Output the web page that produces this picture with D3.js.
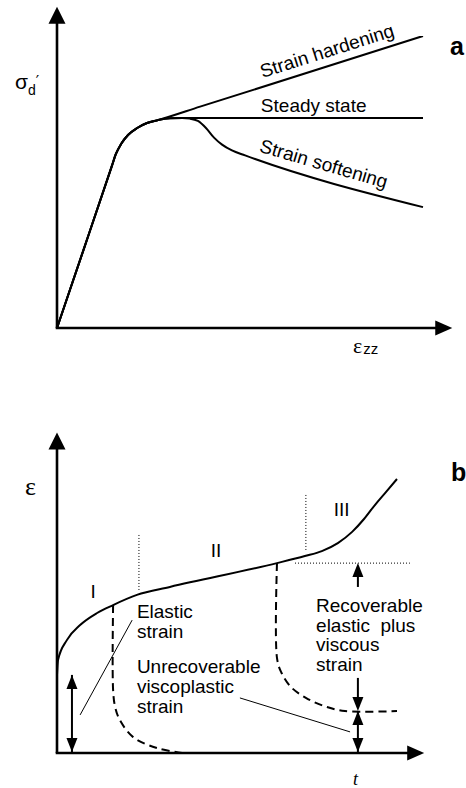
<!DOCTYPE html>
<html>
<head>
<meta charset="utf-8">
<script src="https://cdn.jsdelivr.net/npm/d3@7"></script>
<style>
  body { margin: 0; background: #fff; }
  svg { display: block; }
  text { fill: #000; font-family: "Liberation Sans", Arial, sans-serif; }
</style>
</head>
<body>
<svg id="fig" width="466" height="788"></svg>
<script>
// ---------- Panel a: deviator stress vs axial strain (normalised 0–100) ----------
const loadingBranch = [[0,0],[7.5,27.7],[15.0,55.5],[16.1,59.6],[17.5,63.0],[19.4,66.1],[21.9,68.5],[24.6,70.2],[27.6,71.2]];
const hardeningBranch = [[39.1,75.8],[100,100]];
const steadyBranch = [[30.9,71.8],[34.2,71.9],[60,71.9],[100,71.9]];
const softeningBranch = [[30.9,71.8],[34.2,71.9],[36.3,71.7],[38.5,70.9],[40.7,68.5],[42.9,65.2],[45.1,62.8],[47.8,60.8],[51.4,59.1],[100,41.4]];
const branchLabels = ["Strain hardening", "Steady state", "Strain softening"];
const panelA = { axisX: 108, axisY: 110 };

// ---------- Panel b: creep strain vs time (normalised 0–100) ----------
const creepCurve = [[0,28.5],[0.3,33.9],[2.9,41.2],[6.8,46.7],[11.8,51.1],[16.5,54.0],[23.5,57.7],[33.2,60.6],[64.7,69.3],[72.9,71.9],[77.9,73.7],[82.6,76.6],[86.8,80.7],[90.3,85.4],[93.5,90.5],[96.8,95.3],[100,100]];
const unloadEarly = [[16.5,54.0],[16.5,23.0],[17.1,16.8],[18.5,12.0],[22.4,5.8],[29.4,1.8],[36.8,0]];
const unloadLate = [[64.7,69.3],[64.7,34.7],[65.9,29.6],[68.8,24.1],[73.8,19.7],[79.4,16.8],[84.7,15.3],[100,15.3]];
const stageBounds = [{ t: 24.1, from: 59.5, to: 79.6 }, { t: 73.2, from: 74.1, to: 94.9 }];
const stageLabels = ["I", "II", "III"];
const stageLabelPos = [[10.6,56.6],[46.8,71.5],[83.7,86.5]];
const elasticLevel = 28.5;      // instantaneous elastic strain at loading
const unloadStrain = 69.3, residualStrain = 15.3;
const measureTime = 88.5, elasticArrowTime = 4.4;
const panelB = { axisX: 108, axisY: 117 };

const svg = d3.select("#fig");

// Shared helpers
function arrowHead(g, x, y, dir, len, wid) {
  const h = wid / 2;
  let pts;
  if (dir === "up")    pts = [[x, y], [x - h, y + len], [x + h, y + len]];
  if (dir === "down")  pts = [[x, y], [x - h, y - len], [x + h, y - len]];
  if (dir === "right") pts = [[x, y], [x - len, y - h], [x - len, y + h]];
  g.append("path").attr("d", "M" + pts.map(p => p.join(",")).join("L") + "Z").attr("fill", "#000");
}
function drawAxes(g, x, y, ext) {
  const x0 = x(0), y0 = y(0), xe = x(ext.axisX), ye = y(ext.axisY);
  g.append("line").attr("x1", x0).attr("y1", y0).attr("x2", x0).attr("y2", ye + 15)
    .attr("stroke", "#000").attr("stroke-width", 2.6);
  g.append("line").attr("x1", x0 - 1.3).attr("y1", y0).attr("x2", xe - 15).attr("y2", y0)
    .attr("stroke", "#000").attr("stroke-width", 2.6);
  arrowHead(g, x0, ye, "up", 17, 17);
  arrowHead(g, xe, y0, "right", 17, 15);
}
const labelFont = 19;

// ================= Panel a =================
const xa = d3.scaleLinear().domain([0, 100]).range([57, 423]);
const ya = d3.scaleLinear().domain([0, 100]).range([328, 36]);
const ga = svg.append("g");
drawAxes(ga, xa, ya, panelA);

const lineA = d3.line().x(d => xa(d[0])).y(d => ya(d[1])).curve(d3.curveMonotoneX);
[hardeningBranch, steadyBranch, softeningBranch].forEach(branch => {
  ga.append("path").attr("d", lineA(loadingBranch.concat(branch)))
    .attr("fill", "none").attr("stroke", "#000").attr("stroke-width", 2);
});

function slopeAngle(pts) {
  const a = pts[pts.length - 2], b = pts[pts.length - 1];
  return Math.atan2(ya(b[1]) - ya(a[1]), xa(b[0]) - xa(a[0])) * 180 / Math.PI;
}
ga.append("text").attr("text-anchor", "middle").attr("font-size", labelFont)
  .attr("transform", `translate(${xa(74.3)},${ya(92.8)}) rotate(${slopeAngle(hardeningBranch)})`)
  .text(branchLabels[0]);
ga.append("text").attr("x", xa(55.7)).attr("y", ya(74.0)).attr("font-size", labelFont)
  .text(branchLabels[1]);
ga.append("text").attr("text-anchor", "middle").attr("font-size", labelFont)
  .attr("transform", `translate(${xa(72.4)},${ya(54.1)}) rotate(${slopeAngle(softeningBranch)})`)
  .text(branchLabels[2]);

// axis titles and panel letter
const sig = ga.append("text").attr("x", 15).attr("y", 89);
sig.append("tspan").attr("font-size", 21).text("σ");
sig.append("tspan").attr("font-size", 14).attr("dy", 6).text("d");
sig.append("tspan").attr("font-size", 15).attr("dx", 0).attr("dy", -8)
  .style("font-family", "'DejaVu Sans', sans-serif").text("′");
const eps = ga.append("text").attr("x", 353).attr("y", 353);
eps.append("tspan").attr("font-size", 22).style("font-family", "'Liberation Serif', serif").text("ε");
eps.append("tspan").attr("font-size", 15).attr("dx", 1).attr("dy", 1).text("zz");
ga.append("text").attr("x", 450).attr("y", 55).attr("font-size", 25).attr("font-weight", "bold").text("a");

// ================= Panel b =================
const xb = d3.scaleLinear().domain([0, 100]).range([57, 397]);
const yb = d3.scaleLinear().domain([0, 100]).range([753, 479]);
const gb = svg.append("g");
drawAxes(gb, xb, yb, panelB);

const lineB = d3.line().x(d => xb(d[0])).y(d => yb(d[1])).curve(d3.curveMonotoneX);
const dashLine = d3.line().x(d => xb(d[0])).y(d => yb(d[1])).curve(d3.curveCatmullRom.alpha(0.5));

// stage boundaries and unloading reference level (dotted)
stageBounds.forEach(s => {
  gb.append("line").attr("x1", xb(s.t)).attr("x2", xb(s.t)).attr("y1", yb(s.from)).attr("y2", yb(s.to))
    .attr("stroke", "#000").attr("stroke-width", 1).attr("stroke-dasharray", "1,2");
});
gb.append("line").attr("x1", xb(70)).attr("x2", xb(103.8)).attr("y1", yb(unloadStrain)).attr("y2", yb(unloadStrain))
  .attr("stroke", "#000").attr("stroke-width", 1).attr("stroke-dasharray", "1,2");

// recovery after unloading (dashed)
[unloadEarly, unloadLate].forEach(p => {
  gb.append("path").attr("d", dashLine(p)).attr("fill", "none").attr("stroke", "#000")
    .attr("stroke-width", 2).attr("stroke-dasharray", "8,5");
});

// creep curve
gb.append("path").attr("d", lineB(creepCurve)).attr("fill", "none").attr("stroke", "#000").attr("stroke-width", 2);

// dimension arrows
function vLine(t, s1, s2) {
  gb.append("line").attr("x1", xb(t)).attr("x2", xb(t)).attr("y1", yb(s1)).attr("y2", yb(s2))
    .attr("stroke", "#000").attr("stroke-width", 2);
}
const AL = 14, AW = 11;
// elastic strain
vLine(elasticArrowTime, elasticLevel, 0);
arrowHead(gb, xb(elasticArrowTime), yb(elasticLevel), "up", AL, AW);
arrowHead(gb, xb(elasticArrowTime), yb(0) - 1, "down", AL, AW);
// recoverable strain
vLine(measureTime, 60.6, unloadStrain - 2);
arrowHead(gb, xb(measureTime), yb(unloadStrain), "up", AL, AW);
vLine(measureTime, 27.4, residualStrain + 2);
arrowHead(gb, xb(measureTime), yb(residualStrain), "down", AL, AW);
// unrecoverable strain
vLine(measureTime, residualStrain, 0);
arrowHead(gb, xb(measureTime), yb(residualStrain), "up", AL, AW);
arrowHead(gb, xb(measureTime), yb(0) - 1, "down", AL, AW);

// leader lines
gb.append("line").attr("x1", xb(22.1)).attr("y1", yb(48.5)).attr("x2", xb(6.8)).attr("y2", yb(13.9))
  .attr("stroke", "#000").attr("stroke-width", 1);
gb.append("line").attr("x1", xb(53.8)).attr("y1", yb(20.1)).attr("x2", xb(86.2)).attr("y2", yb(7.7))
  .attr("stroke", "#000").attr("stroke-width", 1);

// stage labels
stageLabels.forEach((s, i) => {
  gb.append("text").attr("x", xb(stageLabelPos[i][0])).attr("y", yb(stageLabelPos[i][1]))
    .attr("text-anchor", "middle").attr("font-size", labelFont).text(s);
});

// annotation blocks
function block(lines, t, s) {
  const txt = gb.append("text").attr("x", xb(t)).attr("y", yb(s)).attr("font-size", labelFont)
    .style("white-space", "pre");
  lines.forEach((l, i) => txt.append("tspan").attr("x", xb(t)).attr("dy", i ? 19.8 : 0).text(l));
}
block(["Elastic", "strain"], 23.5, 49.3);
block(["Unrecoverable", "viscoplastic", "strain"], 23.5, 29.2);
block(["Recoverable", "elastic  plus", "viscous", "strain"], 76.2, 51.5);

// axis titles and panel letter
gb.append("text").attr("x", 25).attr("y", 495).attr("font-size", 26)
  .style("font-family", "'Liberation Serif', serif").text("ε");
gb.append("text").attr("x", 353).attr("y", 785).attr("font-size", 18).attr("font-style", "italic")
  .style("font-family", "'Liberation Serif', serif").text("t");
gb.append("text").attr("x", 451).attr("y", 481).attr("font-size", 25).attr("font-weight", "bold").text("b");
</script>
</body>
</html>
